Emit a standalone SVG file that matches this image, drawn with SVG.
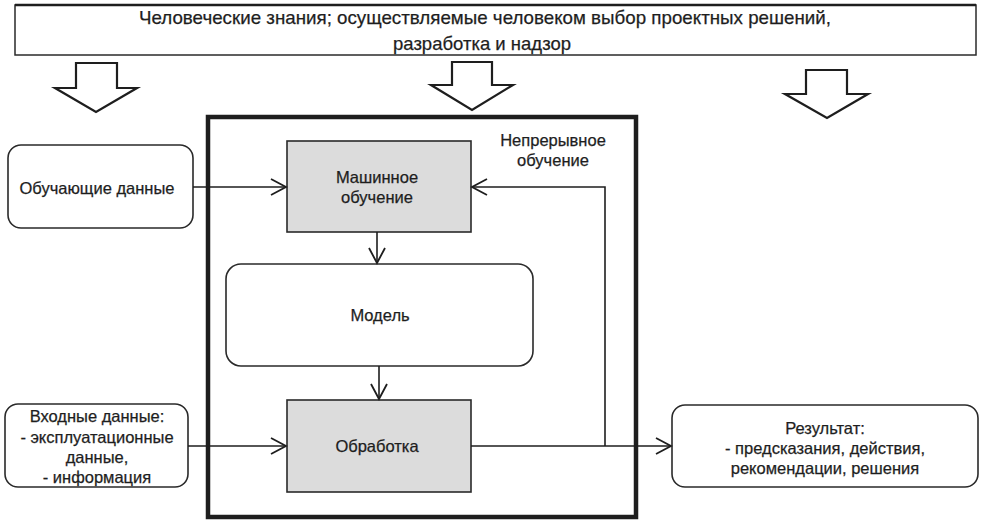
<svg xmlns="http://www.w3.org/2000/svg" width="982" height="524" viewBox="0 0 982 524">
<defs>
<style>
text{font-family:"Liberation Sans",Arial,sans-serif;font-size:16.5px;fill:#1e1e1e;stroke:#1e1e1e;stroke-width:0.25;text-anchor:middle}
.top{font-size:19px}
.node{fill:#fff;stroke:#2a2a2a;stroke-width:1.6}
.grey{fill:#dcdcdc;stroke:#2a2a2a;stroke-width:1.6}
.blk{fill:#fff;stroke:#1e1e1e;stroke-width:2.2;stroke-linejoin:miter}
.con{fill:none;stroke:#1e1e1e;stroke-width:1.6}
</style>
<marker id="ah" markerUnits="userSpaceOnUse" markerWidth="20" markerHeight="20" refX="16" refY="9" orient="auto">
<path d="M1,1 L16,9 L1,17" fill="none" stroke="#1e1e1e" stroke-width="1.8"/>
</marker>
</defs>
<rect width="982" height="524" fill="#fff"/>

<g id="human">
<rect x="15" y="5" width="961" height="50" fill="#fff" stroke="#2a2a2a" stroke-width="1.5"/>
<line x1="15" y1="5" x2="976" y2="5" stroke="#1e1e1e" stroke-width="2.5"/>
<text class="top" x="485" y="24" textLength="692" lengthAdjust="spacingAndGlyphs">Человеческие знания; осуществляемые человеком выбор проектных решений,</text>
<text class="top" x="482" y="50" textLength="178" lengthAdjust="spacingAndGlyphs">разработка и надзор</text>
</g>

<g id="block-arrows">
<polygon class="blk" points="76,63 117,63 117,88 137,88 96,112 55,88 76,88"/>
<polygon class="blk" points="452,62 492,62 492,85 513,85 472,110 431,85 452,85"/>
<polygon class="blk" points="806,70 847,70 847,94 868,94 827,118 785,94 806,94"/>
</g>

<g id="system">
<rect x="208" y="117" width="428" height="400" fill="none" stroke="#1e1e1e" stroke-width="4.5"/>
<text x="553" y="146">Непрерывное</text>
<text x="553" y="166">обучение</text>
</g>

<g id="training">
<rect class="node" x="8" y="145" width="185" height="83" rx="13"/>
<text x="97" y="194">Обучающие данные</text>
</g>

<g id="ml">
<rect class="grey" x="287" y="141" width="184" height="91"/>
<text x="377" y="183">Машинное</text>
<text x="377" y="203">обучение</text>
</g>

<g id="model">
<rect class="node" x="226" y="264" width="307" height="102" rx="15"/>
<text x="380" y="321">Модель</text>
</g>

<g id="processing">
<rect class="grey" x="287" y="400" width="184" height="92"/>
<text x="377" y="452">Обработка</text>
</g>

<g id="input">
<rect class="node" x="5" y="404" width="183" height="83" rx="13"/>
<text x="97" y="422">Входные данные:</text>
<text x="97" y="443">- эксплуатационные</text>
<text x="97" y="463">данные,</text>
<text x="97" y="483">- информация</text>
</g>

<g id="result">
<rect class="node" x="672" y="405" width="306" height="82" rx="13"/>
<text x="825" y="434">Результат:</text>
<text x="825" y="454">- предсказания, действия,</text>
<text x="825" y="474">рекомендации, решения</text>
</g>

<g id="connectors">
<line class="con" x1="193" y1="187" x2="286" y2="187" marker-end="url(#ah)"/>
<polyline class="con" points="605,446 605,187 472,187" marker-end="url(#ah)"/>
<line class="con" x1="377" y1="232" x2="377" y2="263" marker-end="url(#ah)"/>
<line class="con" x1="379" y1="366" x2="379" y2="399" marker-end="url(#ah)"/>
<line class="con" x1="188" y1="446" x2="286" y2="446" marker-end="url(#ah)"/>
<line class="con" x1="471" y1="446" x2="671" y2="446" marker-end="url(#ah)"/>
</g>
</svg>
